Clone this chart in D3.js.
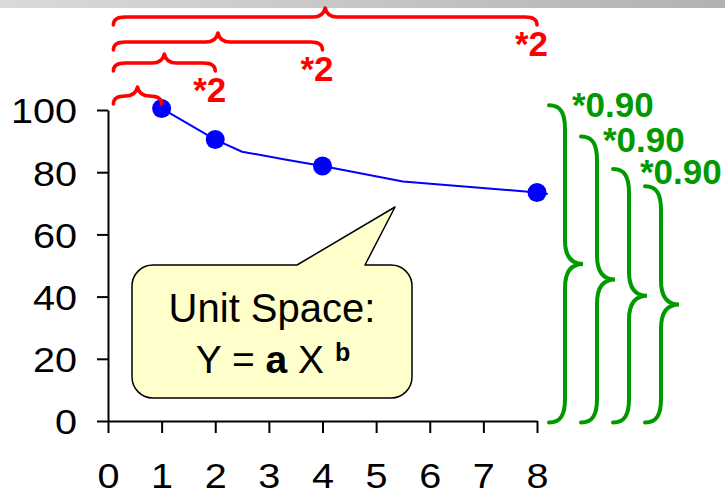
<!DOCTYPE html>
<html>
<head>
<meta charset="utf-8">
<script src="https://cdn.jsdelivr.net/npm/d3@7/dist/d3.min.js"></script>
<style>
  html, body { margin: 0; padding: 0; background: #fff; }
  svg { display: block; }
  text { font-family: "Liberation Sans", Arial, sans-serif; }
</style>
</head>
<body>
<svg id="chart" width="725" height="493"></svg>
<script>
// Learning-curve data: unit number vs. cost (percent of first unit)
const xTicks = [0, 1, 2, 3, 4, 5, 6, 7, 8];
const yTicks = [0, 20, 40, 60, 80, 100];

// fitted curve Y = a X^b, sampled along the unit axis
const curveX = [1, 2, 2.5, 3.3, 4, 5.5, 8, 8.2];
const curveY = [100.5, 90.5, 86.6, 84.1, 82, 77, 73.5, 73];

// observed units at each doubling
const pointX = [1, 2, 4, 8];
const pointY = [100.5, 90.5, 82, 73.5];

// doubling braces along the top (each spans from the origin to a unit count)
const doublingEnds = [1, 2, 4, 8];
const doublingStart = 0.1;
const doublingLabels = ["", "*2", "*2", "*2"];

// cost braces on the right (each spans from zero up to a cost level)
const costTops = [101.5, 91.5, 81, 75.5];
const costBottom = -0.5;
const costLabels = ["*0.90", "*0.90", "*0.90"];

const svg = d3.select("#chart");

// header strip
const defs = svg.append("defs");
const grad = defs.append("linearGradient").attr("id", "hdr")
  .attr("x1", "0%").attr("x2", "100%").attr("y1", "0%").attr("y2", "0%");
grad.append("stop").attr("offset", "0%").attr("stop-color", "#dadada");
grad.append("stop").attr("offset", "100%").attr("stop-color", "#b2b2b2");
svg.append("rect").attr("x", 0).attr("y", 0).attr("width", 725).attr("height", 8)
  .attr("fill", "url(#hdr)");

const x = d3.scaleLinear().domain([0, 8]).range([108, 537]);
const y = d3.scaleLinear().domain([0, 100]).range([421, 110]);

// axes
const yAxis = svg.append("g").attr("transform", `translate(${x(0)},0)`)
  .call(d3.axisLeft(y).tickValues(yTicks).tickSizeInner(11).tickSizeOuter(0).tickPadding(20));
const xAxis = svg.append("g").attr("transform", `translate(0,${y(0)})`)
  .call(d3.axisBottom(x).tickValues(xTicks).tickSizeInner(12).tickSizeOuter(0).tickPadding(32));

[yAxis, xAxis].forEach(g => {
  g.selectAll("path, line").attr("stroke", "#000").attr("stroke-width", 2);
  g.selectAll("text").attr("fill", "#000").attr("font-size", 36)
    .attr("font-family", "'Liberation Sans', Arial, sans-serif");
});
// tick labels are set a little wide
yAxis.selectAll("text").attr("x", 0).attr("dy", "0.36em")
  .attr("transform", "translate(-31,0) scale(1.1,1)");
xAxis.selectAll("text").attr("y", 0).attr("dy", 0)
  .attr("transform", "translate(0,67) scale(1.1,1)");

// curve and points
const line = d3.line().x((d, i) => x(curveX[i])).y(d => y(d));
svg.append("path").datum(curveY).attr("d", line)
  .attr("fill", "none").attr("stroke", "#0000ff").attr("stroke-width", 2);

svg.selectAll("circle.pt").data(pointY).join("circle").attr("class", "pt")
  .attr("cx", (d, i) => x(pointX[i])).attr("cy", d => y(d)).attr("r", 9.5)
  .attr("fill", "#0000ff");

// horizontal braces (opening downward)
const braceLineY = [96, 63, 42, 17];
function hBrace(x0, x1, yl) {
  const xm = (x0 + x1) / 2, e = 8, p = 9, r = 12;
  return `M${x0},${yl + e} Q${x0},${yl} ${x0 + r},${yl} L${xm - r},${yl} ` +
    `Q${xm - 2},${yl} ${xm},${yl - p} Q${xm + 2},${yl} ${xm + r},${yl} ` +
    `L${x1 - r},${yl} Q${x1},${yl} ${x1},${yl + e}`;
}
doublingEnds.forEach((xe, i) => {
  const x0 = x(doublingStart), x1 = x(xe), yl = braceLineY[i];
  svg.append("path").attr("d", hBrace(x0, x1, yl))
    .attr("fill", "none").attr("stroke", "#ff0000").attr("stroke-width", 3.5)
    .attr("stroke-linecap", "round").attr("stroke-linejoin", "round");
  if (doublingLabels[i]) {
    svg.append("text").attr("x", x1 + 11).attr("y", yl + 39)
      .attr("text-anchor", "end").attr("font-size", 35).attr("font-weight", "bold")
      .attr("fill", "#ff0000").text(doublingLabels[i]);
  }
});

// vertical braces (opening leftward)
function vBrace(x0, yT, yB) {
  const x1 = x0 + 16, x2 = x0 + 34, ym = (yT + yB) / 2;
  return `M${x0},${yT} C${x0 + 12},${yT} ${x1},${yT + 8} ${x1},${yT + 24} ` +
    `L${x1},${ym - 24} C${x1},${ym - 8} ${x1 + 6},${ym} ${x2},${ym} ` +
    `C${x1 + 6},${ym} ${x1},${ym + 8} ${x1},${ym + 24} ` +
    `L${x1},${yB - 24} C${x1},${yB - 8} ${x0 + 12},${yB} ${x0},${yB}`;
}
const costLabelPos = [[572, 117], [603, 152], [640, 184]];
costTops.forEach((v, i) => {
  const x0 = x(8) + 12 + i * 32;
  svg.append("path").attr("d", vBrace(x0, y(v), y(costBottom)))
    .attr("fill", "none").attr("stroke", "#009900").attr("stroke-width", 4)
    .attr("stroke-linecap", "round");
});
costLabels.forEach((t, i) => {
  svg.append("text").attr("x", costLabelPos[i][0]).attr("y", costLabelPos[i][1])
    .attr("font-size", 35).attr("font-weight", "bold").attr("fill", "#009900").text(t);
});

// callout
const cx0 = 132, cx1 = 412, cy0 = 265, cy1 = 398, cr = 21;
const callout = `M${cx0 + cr},${cy0} L297,${cy0} L395,207 L365,${cy0} L${cx1 - cr},${cy0} ` +
  `A${cr},${cr} 0 0 1 ${cx1},${cy0 + cr} L${cx1},${cy1 - cr} ` +
  `A${cr},${cr} 0 0 1 ${cx1 - cr},${cy1} L${cx0 + cr},${cy1} ` +
  `A${cr},${cr} 0 0 1 ${cx0},${cy1 - cr} L${cx0},${cy0 + cr} ` +
  `A${cr},${cr} 0 0 1 ${cx0 + cr},${cy0} Z`;
svg.append("path").attr("d", callout).attr("fill", "#ffffcc")
  .attr("stroke", "#000").attr("stroke-width", 1.5).attr("stroke-linejoin", "round");

svg.append("text").attr("x", 272).attr("y", 322).attr("text-anchor", "middle")
  .attr("font-size", 40).attr("fill", "#000").text("Unit Space:");
const eq = svg.append("text").attr("x", 273).attr("y", 373).attr("text-anchor", "middle")
  .attr("font-size", 39).attr("fill", "#000");
eq.append("tspan").text("Y = ");
eq.append("tspan").attr("font-weight", "bold").text("a");
eq.append("tspan").text(" X ");
eq.append("tspan").attr("font-weight", "bold").attr("font-size", 25).attr("dy", -12).text("b");
</script>
</body>
</html>
